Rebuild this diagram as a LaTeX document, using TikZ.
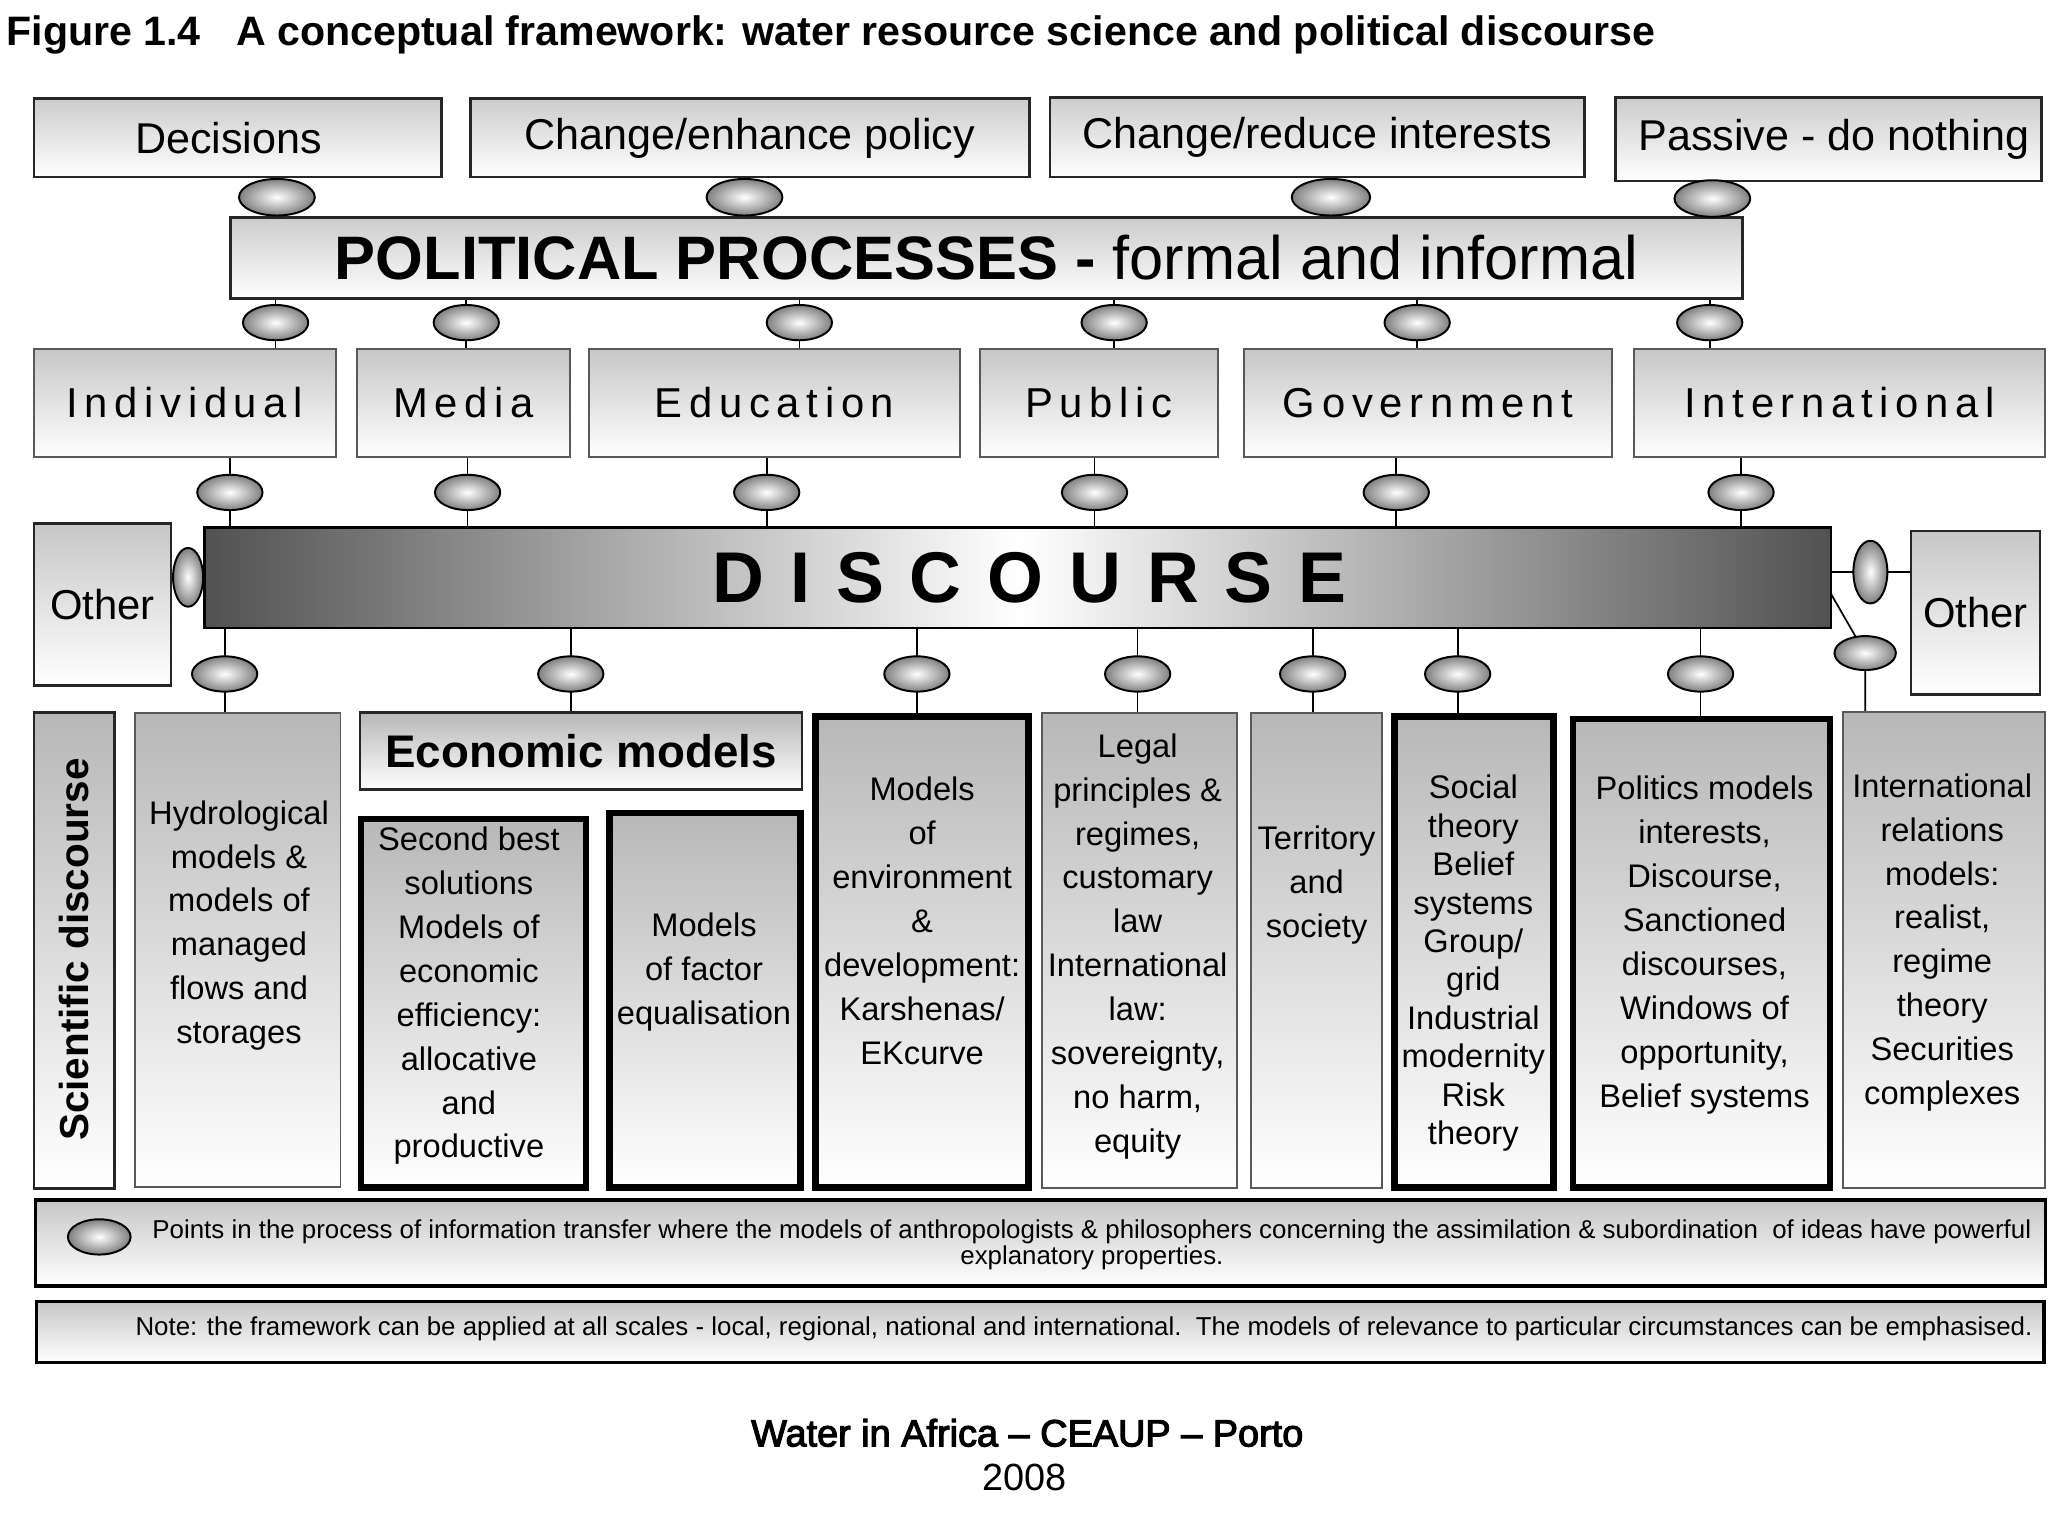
\documentclass[tikz,border=0pt]{standalone}
\usepackage{fontspec}
\setmainfont{Liberation Sans}
\usetikzlibrary{shapes.geometric,backgrounds}

\begin{document}
\begin{tikzpicture}[x=1pt, y=-1pt,
  every node/.style = {inner sep=0pt, outer sep=0pt, align=center},
  topbox/.style = {draw=black!85, line width=2pt, top color=black!20, bottom color=white,
    font=\fontsize{33}{40}\selectfont},
  actor/.style = {draw=black!65, line width=1.5pt, top color=black!22, bottom color=white,
    minimum height=83pt, font=\fontsize{32}{40}\selectfont\addfontfeatures{LetterSpace=16}},
  otherbox/.style = {draw=black!85, line width=2pt, top color=black!22, bottom color=white,
    font=\fontsize{32}{40}\selectfont},
  model/.style = {draw=black!65, line width=1.5pt, top color=black!28, bottom color=white},
  keymodel/.style = {model, draw=black, line width=5pt},
  modeltext/.style = {font=\fontsize{25}{33.6}\selectfont},
  ball/.style = {ellipse, draw=black, line width=1.5pt, minimum width=50pt, minimum height=27pt,
    inner color=white, outer color=black!50},
  link/.style = {draw=black, line width=1.3pt},
  notebox/.style = {draw=black, line width=2.5pt, top color=black!22, bottom color=white}]
  \useasboundingbox (0,0) rectangle (1568,1176);

  \node[anchor=base west, font=\fontsize{31.5}{36}\selectfont\bfseries] (title) at (5,34.5)
    {Figure 1.4\hspace{27pt}A conceptual framework: water resource science and political discourse};

  % what can come out of it
  \node[topbox, minimum width=312pt, minimum height=60pt] (dec) at (182,105.6) {Decisions\hspace*{14pt}};
  \node[topbox, minimum width=428pt, minimum height=60pt] (cep) at (574,105.6) {Change/enhance policy};
  \node[topbox, minimum width=409pt, minimum height=61pt] (cri) at (1008.5,105) {Change/reduce interests};
  \node[topbox, minimum width=326pt, minimum height=64pt] (pas) at (1400,106.7) {\hspace*{8pt}Passive - do nothing};
  \node[topbox, minimum width=1158pt, minimum height=62pt, font=\fontsize{47}{56}\selectfont] (pp)
    at (755.3,197.4) {\textbf{POLITICAL PROCESSES -} formal and informal};

  % who takes part
  \node[actor, minimum width=231pt] (ind) at (141.5,308.5) {Individual};
  \node[actor, minimum width=163.5pt] (med) at (354.75,308.5) {Media};
  \node[actor, minimum width=284pt] (edu) at (593,308.5) {Education};
  \node[actor, minimum width=182.6pt] (pub) at (841.3,308.5) {Public};
  \node[actor, minimum width=281.4pt] (gov) at (1093.3,308.5) {Government};
  \node[actor, minimum width=315pt] (int) at (1408.5,308.5) {International};

  \node[draw=black, line width=2pt, left color=black!68, right color=black!68, middle color=white,
    minimum width=1245pt, minimum height=77pt,
    font=\fontsize{55}{60}\selectfont\bfseries\addfontfeatures{LetterSpace=36}] (disc)
    at (779.3,442.4) {\hspace*{18pt}DISCOURSE};
  \node[otherbox, minimum width=105pt, minimum height=124pt] (oleft) at (78.5,463) {Other};
  \node[otherbox, minimum width=99pt, minimum height=125pt] (oright) at (1512.5,469) {Other};

  % the models
  \node[model, draw=black!85, line width=2pt, minimum width=61.5pt, minimum height=364pt] (sci) at (56.75,727.7) {};
  \node[rotate=90, font=\fontsize{31}{36}\selectfont\bfseries] (sci-t) at (57,727) {Scientific discourse};
  \node[model, minimum width=157.7pt, minimum height=363.4pt] (hyd) at (181.85,727.3) {};
  \node[model, draw=black!85, line width=2pt, minimum width=338.3pt, minimum height=58.7pt,
    font=\fontsize{35}{40}\selectfont\bfseries] (econ) at (444.85,575) {Economic models};
  \node[keymodel, minimum width=172pt, minimum height=282pt] (sec) at (362.5,768) {};
  \node[keymodel, minimum width=146.5pt, minimum height=286.5pt] (fac) at (539.75,765.75) {};
  \node[keymodel, minimum width=163pt, minimum height=360.5pt] (env) at (706,728.75) {};
  \node[model, minimum width=149pt, minimum height=364pt] (legal) at (872.5,727.7) {};
  \node[model, minimum width=100.4pt, minimum height=364pt] (terr) at (1007.8,727.7) {};
  \node[keymodel, minimum width=122pt, minimum height=360.5pt] (soc) at (1128.5,728.75) {};
  \node[keymodel, minimum width=196.6pt, minimum height=358.5pt] (pol) at (1302.6,729.75) {};
  \node[model, minimum width=154.7pt, minimum height=364.8pt] (intrel) at (1488.35,727.4) {};

  \node[modeltext] (hyd-t) at (183,708.5) {Hydrological\\models \&\\models of\\managed\\flows and\\storages};
  \node[modeltext] (sec-t) at (359,762.5) {Second best\\solutions\\Models of\\economic\\efficiency:\\allocative\\and\\productive};
  \node[modeltext] (fac-t) at (539,744.5) {Models\\of factor\\equalisation};
  \node[modeltext] (env-t) at (706,705) {Models\\of\\environment\\\&\\development:\\Karshenas/\\EKcurve};
  \node[modeltext] (legal-t) at (871,724.5) {Legal\\principles \&\\regimes,\\customary\\law\\International\\law:\\sovereignty,\\no harm,\\equity};
  \node[modeltext] (terr-t) at (1008,677.5) {Territory\\and\\society};
  \node[modeltext, font=\fontsize{25}{29.4}\selectfont] (soc-t) at (1128,737.5)
    {Social\\theory\\Belief\\systems\\Group/\\grid\\Industrial\\modernity\\Risk\\theory};
  \node[modeltext] (pol-t) at (1305,723.5) {Politics models\\interests,\\Discourse,\\Sanctioned\\discourses,\\Windows of\\opportunity,\\Belief systems};
  \node[modeltext] (ir-t) at (1487,721.5) {International\\relations\\models:\\realist,\\regime\\theory\\Securities\\complexes};

  % transfer points
  \node[ball, minimum width=58pt, minimum height=28pt] (a1) at (212,151) {};
  \node[ball, minimum width=58pt, minimum height=28pt] (a2) at (570,151) {};
  \node[ball, minimum width=60pt, minimum height=28pt] (a3) at (1019,151) {};
  \node[ball, minimum width=58pt, minimum height=28pt] (a4) at (1311,152) {};
  \node[ball] (b1) at (211,247) {};
  \node[ball] (b2) at (357,247) {};
  \node[ball] (b3) at (612,247) {};
  \node[ball] (b4) at (853,247) {};
  \node[ball] (b5) at (1085,247) {};
  \node[ball] (b6) at (1309,247) {};
  \node[ball] (c1) at (176,377) {};
  \node[ball] (c2) at (358,377) {};
  \node[ball] (c3) at (587,377) {};
  \node[ball] (c4) at (838,377) {};
  \node[ball] (c5) at (1069,377) {};
  \node[ball] (c6) at (1333,377) {};
  \node[ball] (d1) at (172,516) {};
  \node[ball] (d2) at (437,516) {};
  \node[ball] (d3) at (702,516) {};
  \node[ball] (d4) at (871,516) {};
  \node[ball] (d5) at (1005,516) {};
  \node[ball] (d6) at (1116,516) {};
  \node[ball] (d7) at (1302,516) {};
  \node[ball, minimum width=47pt, minimum height=26pt] (d8) at (1428,500) {};
  \node[ball, minimum width=23pt, minimum height=45pt] (sl) at (144,442) {};
  \node[ball, minimum width=26pt, minimum height=48pt] (sr) at (1432,438) {};
  \coordinate (dtap) at (1402,455);

  \begin{scope}[on background layer]
    \fill[white] (0,0) rectangle (1568,1176);
    \foreach \b/\u/\d in {a1/dec/pp, a2/cep/pp, a3/cri/pp, a4/pas/pp,
        b1/pp/ind, b2/pp/med, b3/pp/edu, b4/pp/pub, b5/pp/gov, b6/pp/int,
        c1/ind/disc, c2/med/disc, c3/edu/disc, c4/pub/disc, c5/gov/disc, c6/int/disc,
        d1/disc/hyd, d2/disc/econ, d3/disc/env, d4/disc/legal, d5/disc/terr, d6/disc/soc, d7/disc/pol}
      \draw[link] (\b |- \u.south) -- (\b |- \d.north);
    \draw[link] (sl -| oleft.east) -- (sl -| disc.west);
    \draw[link] (sr -| disc.east) -- (sr -| oright.west);
    \draw[link] (dtap) -- (d8) -- (d8 |- intrel.north);
  \end{scope}

  % key and note
  \node[notebox, minimum width=1539pt, minimum height=65.8pt] (key) at (796.5,951.7) {};
  \node[ball, minimum width=48pt, minimum height=27pt] (keyball) at (76,947) {};
  \node[font=\fontsize{19.8}{20.5}\selectfont] (key-t) at (836,953)
    {Points in the process of information transfer where the models of anthropologists \& philosophers concerning the assimilation \& subordination\ \ of ideas have powerful\\explanatory properties.};
  \node[notebox, minimum width=1537pt, minimum height=46.4pt] (note) at (796.5,1019.8) {};
  \node[font=\fontsize{19.8}{20.5}\selectfont] (note-t) at (830,1017)
    {Note: the framework can be applied at all scales - local, regional, national and international.\ \ The models of relevance to particular circumstances can be emphasised.};

  \node[font=\fontsize{29}{34}\selectfont\addfontfeatures{FakeBold=3}] (src) at (786.5,1097) {Water in Africa -- CEAUP -- Porto};
  \node[font=\fontsize{29}{34}\selectfont] (year) at (784.5,1131) {2008};
\end{tikzpicture}
\end{document}
